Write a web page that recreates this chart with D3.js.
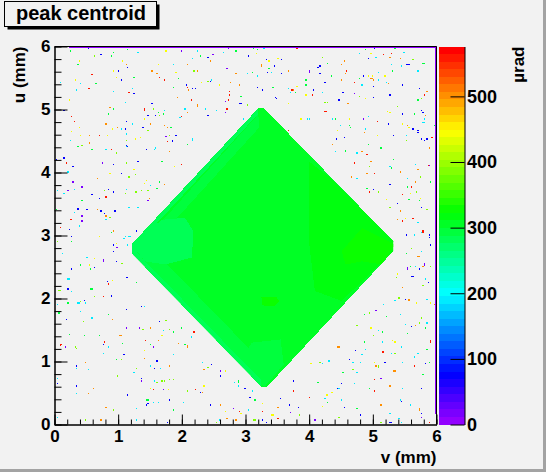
<!DOCTYPE html>
<html lang="en">
<head>
<meta charset="utf-8">
<title>peak centroid</title>
<script src="https://cdnjs.cloudflare.com/ajax/libs/d3/7.8.5/d3.min.js"></script>
<style>
  body { margin: 0; background: #f2f2f2; }
  svg { display: block; }
  text { font-family: "Liberation Sans", Arial, Helvetica, sans-serif; font-weight: bold; }
</style>
</head>
<body>
<script>

//Axis ranges, bins and ticks
var vDomain = [0, 6];
var uDomain = [0, 6];
var zMax = 576;
var nColors = 50;
var binSize = 0.02;
var vTicks = [0, 1, 2, 3, 4, 5, 6];
var uTicks = [0, 1, 2, 3, 4, 5, 6];
var zTicks = [0, 100, 200, 300, 400, 500];

//Diamond outline [v, u] and its base value
var diamondOutline = [[3.20,5.02],[3.29,5.02],[5.32,2.91],[5.32,2.75],[3.34,0.60],[3.25,0.60],[1.21,2.72],[1.21,2.86]];
var diamondValue = 305;

//Sub-regions inside the diamond with their own value
var bandInner = [[3.20,4.92],[1.36,2.86],[1.21,2.66],[3.25,0.60],[3.35,0.90],[1.60,2.72],[1.55,2.86],[3.22,4.72]];
var bandEdge = [[3.20,5.02],[1.21,2.86],[1.21,2.72],[3.25,0.60],[3.25,0.70],[1.30,2.72],[1.30,2.86],[3.20,4.93]];
var leftPatch = [[1.21,2.86],[1.69,3.25],[2.05,3.28],[2.18,3.07],[2.16,2.65],[1.74,2.54],[1.42,2.59]];
var bottomPatch = [[2.90,1.00],[3.30,0.60],[3.60,0.95],[3.55,1.35],[3.10,1.30]];
var rightPatch = [[3.99,4.18],[4.30,3.94],[5.40,2.83],[4.51,1.96],[4.09,2.12],[3.99,2.96]];
var rightCorner = [[4.83,3.12],[5.35,2.86],[5.14,2.54],[4.83,2.59],[4.57,2.54],[4.51,2.75]];
var centreSpot = [[3.25,2.02],[3.48,2.03],[3.53,1.95],[3.45,1.88],[3.26,1.89]];
var patches = [
  {shape: bandInner, z: 294},
  {shape: leftPatch, z: 280},
  {shape: bottomPatch, z: 294},
  {shape: bandEdge, z: 283},
  {shape: rightPatch, z: 317},
  {shape: rightCorner, z: 330},
  {shape: centreSpot, z: 330}
];

//Low-valued bins along the top row and the right column
var edgeRows = [
  {side: "top", from: 0.22, to: 6, z: 10},
  {side: "right", from: 0.17, to: 6, z: 10}
];

//Isolated noisy bins [v, u, value]
var noiseTopLeft = [
[0.24,5.92,290],[0.52,5.96,80],[0.72,5.86,80],[0.73,5.86,80],[0.92,5.90,290],[1.15,5.94,290],[1.30,5.90,185],[1.75,5.92,445],[1.99,5.92,20],[2.26,5.92,185],[2.41,5.83,80],[2.49,5.87,20],[2.64,5.90,185],[2.73,5.96,20],[2.85,5.93,290],
[0.62,5.84,385],[0.88,5.84,290],[1.07,5.77,445],[1.14,5.71,505],[0.36,5.71,290],[0.38,5.77,445],[1.62,5.71,445],[1.86,5.71,185],[2.08,5.70,505],[2.16,5.81,185],[2.30,5.85,290],[2.45,5.76,505],[2.70,5.65,20],[2.71,5.65,20],[2.85,5.57,505],
[0.94,5.61,445],[1.01,5.61,80],[1.16,5.66,80],[1.52,5.60,505],[1.60,5.57,505],[1.90,5.59,445],[2.19,5.60,385],[2.25,5.61,505],[0.59,5.55,560],[0.97,5.50,445],[1.05,5.46,80],[1.24,5.51,290],[1.65,5.50,560],[1.72,5.46,560],[1.94,5.49,290],
[0.08,5.42,185],[0.32,5.47,445],[0.40,5.41,185],[0.65,5.41,290],[0.53,5.33,560],[0.54,5.33,560],[1.23,5.33,185],[1.17,5.26,560],[1.25,5.25,80],[1.87,5.34,290],[2.06,5.38,80],[2.08,5.35,560],[2.16,5.33,80],[2.20,5.33,80],[2.11,5.30,505],
[2.31,5.42,445],[2.40,5.44,385],[2.44,5.44,80],[2.46,5.46,185],[2.58,5.38,445],[2.77,5.42,505],[2.90,5.38,505],[2.75,5.29,560],[2.75,5.22,560],[2.93,5.20,290],[0.34,5.31,185],[0.92,5.29,185],[0.23,5.15,445],[1.10,5.11,185],[1.52,5.09,80],
[1.92,5.18,505],[2.14,5.14,560],[2.69,5.12,20],[2.73,5.15,560],[2.90,5.10,80],[2.92,5.10,80],[0.87,5.03,505],[0.93,5.01,290],[1.40,5.01,560],[1.40,4.98,560],[1.55,5.01,385],[1.73,4.99,185],[2.04,5.01,185],[2.25,5.07,505],[2.25,5.04,505],
[2.37,5.01,185],[2.55,4.98,185],[2.70,5.02,560],[2.69,4.95,20],[0.15,4.99,80],[0.84,4.93,290],[2.08,4.94,505],[1.62,4.94,290],[1.58,4.90,80],[1.47,4.90,80],[1.65,4.90,385],[1.71,4.93,290],[1.97,4.87,185],[1.99,4.88,560],[2.40,4.90,80],
[2.97,4.84,185],[0.27,4.88,560],[0.30,4.80,560],[1.12,4.80,80],[1.23,4.77,185],[1.41,4.85,445],[1.50,4.77,505],[0.80,4.77,505],[0.38,4.72,445],[0.91,4.69,445],[0.98,4.71,505],[1.04,4.69,185],[1.11,4.69,80],[1.38,4.71,80],[1.47,4.68,385],
[1.72,4.74,505],[1.76,4.71,505],[1.82,4.72,290],[0.27,4.65,445],[0.41,4.59,445],[0.54,4.58,505],[0.71,4.60,560],[0.82,4.60,445],[1.13,4.61,185],[1.34,4.56,445],[1.74,4.57,20],[1.81,4.58,385],[1.90,4.60,80],[2.16,4.53,185],[2.16,4.51,185],
[0.24,4.52,185],[1.14,4.52,385],[1.26,4.53,445],[1.77,4.49,560],[1.84,4.51,80],[1.84,4.49,80],[0.54,4.46,505],[0.43,4.43,385],[0.36,4.41,290],[1.12,4.42,80],[1.15,4.40,80],[1.13,4.41,185],[0.59,4.37,290],[0.80,4.37,185],[0.81,4.37,185],
[0.89,4.36,560],[1.45,4.37,80],[1.59,4.39,185],[1.56,4.36,185],[2.08,4.44,290],[0.96,4.30,385],[1.81,4.32,505],[0.15,4.23,80],[0.02,4.21,80],[0.19,4.15,560],[0.28,4.09,80],[0.74,4.15,20],[0.92,4.14,80],[1.12,4.15,385],[1.30,4.18,80],
[1.69,4.18,290],[1.98,4.14,560],[1.89,4.08,445],[0.21,4.02,185],[0.87,3.99,445],[1.04,3.98,80],[1.25,4.04,445],[1.26,3.96,385],[1.17,3.92,385],[0.67,3.90,505],[0.29,3.85,20],[1.41,3.83,445],[1.45,3.87,445],[1.64,3.84,290],[1.51,3.78,185],
[1.72,3.80,505],[0.04,3.71,185],[0.14,3.67,185],[0.15,3.67,185],[0.30,3.72,185],[0.21,3.71,20],[0.43,3.77,20],[0.79,3.71,385],[0.84,3.72,80],[0.93,3.68,80],[1.12,3.73,185],[1.27,3.69,385],[1.28,3.69,385],[1.36,3.71,385],[1.47,3.71,385],
[1.61,3.74,290],[0.59,3.65,80],[0.81,3.61,560],[0.71,3.58,80],[1.11,3.66,385],[0.43,3.55,290],[1.48,3.59,505],[1.47,3.55,20],[0.02,3.41,290],[0.37,3.42,80],[0.37,3.40,80],[0.30,3.37,185],[0.51,3.41,80],[0.66,3.41,505],[0.72,3.38,80],
[0.78,3.34,80],[0.80,3.31,505],[0.95,3.38,80],[1.18,3.44,185],[1.30,3.44,185],[0.43,3.31,20],[0.25,3.25,560],[0.26,3.25,560],[0.43,3.22,20],[0.38,3.15,185],[0.87,3.29,385],[0.81,3.24,185],[0.08,3.12,560],[0.09,3.12,560],[0.23,3.08,80],
[0.89,3.04,290],[0.93,3.06,505],[1.28,3.06,80]
];

var noiseTopRight = [
[3.04,5.84,80],[3.12,5.96,290],[3.18,5.94,290],[3.17,5.88,445],[3.29,5.96,185],[3.80,5.96,560],[4.88,5.94,290],[4.96,5.89,445],[5.03,5.96,80],[5.29,5.89,560],[5.29,5.88,560],[5.27,5.83,505],[5.34,5.96,290],[5.49,5.90,185],[5.17,5.86,560],
[4.79,5.88,185],[4.92,5.81,80],[5.04,5.83,185],[3.32,5.78,80],[3.37,5.77,445],[3.51,5.81,445],[3.57,5.78,80],[4.20,5.83,385],[4.21,5.83,385],[4.54,5.77,505],[4.29,5.72,290],[5.42,5.80,505],[5.53,5.70,80],[5.55,5.71,80],[5.56,5.70,80],
[5.63,5.78,385],[5.44,5.68,185],[3.25,5.70,505],[3.25,5.68,505],[3.44,5.68,80],[3.37,5.65,290],[3.02,5.57,185],[3.10,5.58,290],[3.18,5.52,185],[3.34,5.59,80],[3.40,5.58,185],[3.57,5.57,80],[3.66,5.60,505],[4.00,5.61,20],[4.00,5.59,20],
[4.13,5.66,80],[4.15,5.66,80],[4.17,5.68,80],[4.17,5.57,80],[4.35,5.52,290],[4.58,5.61,560],[4.57,5.57,505],[4.52,5.70,505],[4.84,5.53,80],[4.92,5.53,445],[4.97,5.49,505],[4.98,5.49,505],[4.97,5.48,505],[5.02,5.46,505],[4.98,5.52,445],
[5.10,5.58,185],[5.31,5.60,290],[5.18,5.53,445],[5.24,5.40,505],[5.25,5.40,505],[4.79,5.49,290],[4.82,5.39,185],[4.83,5.39,185],[4.70,5.42,560],[3.95,5.46,290],[3.95,5.38,290],[4.25,5.42,80],[4.51,5.46,505],[5.10,5.46,185],[5.20,5.42,185],
[5.00,5.36,80],[5.70,5.61,185],[5.29,5.70,185],[5.79,5.72,290],[5.80,5.72,290],[3.19,5.34,80],[3.26,5.30,80],[3.43,5.34,290],[3.66,5.33,185],[3.73,5.30,560],[3.76,5.30,505],[3.70,5.26,185],[3.79,5.26,290],[3.81,5.36,445],[4.07,5.30,80],
[4.22,5.26,185],[4.06,5.23,560],[3.94,5.22,445],[4.53,5.26,80],[4.72,5.25,20],[4.79,5.20,385],[4.89,5.17,445],[5.00,5.19,80],[5.27,5.22,80],[5.47,5.38,80],[5.73,5.33,80],[5.85,5.28,505],[5.81,5.22,560],[5.76,5.17,385],[5.71,5.14,290],
[3.47,5.18,80],[3.48,5.17,80],[3.02,5.07,385],[3.66,5.10,445],[4.29,5.11,385],[4.26,5.11,385],[4.47,5.14,80],[4.61,5.09,505],[5.38,5.06,385],[5.22,4.96,445],[5.26,4.95,445],[4.26,4.96,560],[4.27,4.96,560],[5.47,4.92,80],[5.64,4.93,290],
[5.77,4.99,80],[5.79,4.95,80],[5.82,4.90,505],[5.83,4.90,505],[5.80,4.85,185],[3.87,4.84,445],[3.97,4.84,185],[4.00,4.85,185],[4.36,4.85,185],[4.40,4.85,290],[4.62,4.85,445],[4.63,4.85,445],[4.84,4.85,20],[4.93,4.88,185],[5.07,4.80,560],
[5.25,4.77,80],[5.46,4.77,445],[5.54,4.74,505],[5.57,4.72,445],[5.63,4.69,80],[5.70,4.67,80],[5.79,4.79,185],[5.80,4.79,185],[5.79,4.78,185],[5.97,4.74,290],[3.66,4.66,560],[4.49,4.76,185],[4.62,4.74,290],[4.65,4.72,290],[4.45,4.68,445],
[4.88,4.69,185],[4.87,4.63,505],[5.07,4.60,445],[5.33,4.60,80],[5.33,4.58,80],[5.53,4.58,185],[5.71,4.62,80],[5.77,4.53,80],[5.81,4.52,80],[5.85,4.53,80],[5.92,4.56,560],[4.42,4.53,80],[4.54,4.55,80],[5.53,4.52,385],[4.37,4.44,505],
[4.92,4.44,290],[4.57,4.34,290],[4.57,4.33,290],[4.40,4.33,185],[4.75,4.31,185],[4.83,4.33,505],[4.91,4.29,560],[4.91,4.28,560],[5.13,4.38,290],[5.32,4.22,290],[5.88,4.39,505],[4.96,4.17,505],[4.70,4.15,560],[4.94,4.09,385],[5.27,4.09,185],
[5.29,4.07,290],[5.66,4.12,185],[5.86,4.11,560],[5.89,4.11,20],[5.98,4.25,385],[4.66,3.92,505],[4.76,3.90,185],[4.90,3.99,505],[5.03,3.98,560],[5.42,4.01,505],[5.71,4.04,505],[5.75,3.93,385],[5.27,3.80,80],[5.55,3.90,185],[5.66,3.85,505],
[5.67,3.85,505],[5.91,3.85,290],[5.54,3.77,290],[5.60,3.77,560],[4.90,3.74,290],[5.00,3.72,80],[4.94,3.68,560],[5.10,3.68,385],[5.47,3.65,560],[5.59,3.66,445],[5.68,3.69,385],[5.75,3.58,445],[5.57,3.57,290],[5.72,3.55,290],[5.21,3.57,445],
[5.39,3.50,80],[5.27,3.45,385],[5.76,3.45,80],[5.77,3.45,80],[5.84,3.40,385],[5.43,3.38,505],[5.98,3.30,385],[5.38,3.25,505],[5.50,3.26,445],[5.51,3.26,445],[5.63,3.26,560],[5.47,3.23,560],[5.71,3.20,185],[5.79,3.06,560],[5.79,3.05,560],
[5.76,3.04,185],[5.52,3.01,80],[5.65,3.01,185],[5.88,3.01,80]
];

var noiseBottomLeft = [
[0.27,2.98,80],[0.71,2.98,445],[1.10,2.98,185],[1.18,2.98,185],[1.19,2.98,185],[1.08,2.95,185],[0.04,2.90,385],[0.26,2.90,290],[0.92,2.85,80],[0.97,2.87,445],[1.15,2.85,185],[0.97,2.80,20],[0.98,2.80,20],[0.92,2.74,80],[0.93,2.74,80],
[0.13,2.71,185],[0.50,2.65,185],[0.51,2.65,185],[0.62,2.63,445],[0.76,2.61,20],[0.76,2.59,20],[0.97,2.58,80],[1.05,2.55,385],[1.06,2.55,385],[0.41,2.52,290],[0.54,2.53,445],[0.62,2.49,80],[0.27,2.46,80],[0.58,2.46,290],[1.14,2.34,80],
[1.15,2.34,80],[0.21,2.31,185],[0.22,2.31,185],[0.82,2.28,80],[0.90,2.30,445],[0.85,2.22,560],[1.29,2.25,290],[0.21,2.15,80],[0.58,2.15,290],[0.59,2.15,290],[0.27,2.11,185],[0.07,2.12,385],[0.08,2.12,385],[0.63,2.03,385],[0.76,2.03,560],
[0.88,2.04,80],[0.88,2.02,80],[0.46,1.96,80],[0.40,1.94,385],[0.48,1.92,185],[0.37,1.92,185],[0.38,1.92,185],[0.20,1.93,290],[0.21,1.93,290],[0.04,1.90,185],[1.36,1.88,80],[1.37,1.88,80],[1.40,1.87,185],[1.14,1.82,80],[0.40,1.79,185],
[0.07,1.77,290],[0.84,1.74,290],[0.59,1.68,185],[0.90,1.66,505],[0.18,1.66,80],[0.45,1.62,385],[1.75,1.65,385],[1.64,1.63,80],[1.12,1.52,20],[1.32,1.52,20],[1.39,1.50,385],[1.50,1.52,505],[1.70,1.49,185],[1.81,1.50,385],[1.86,1.46,290],
[1.98,1.52,290],[2.19,1.46,560],[0.23,1.42,290],[0.46,1.41,290],[0.71,1.41,290],[1.03,1.40,505],[1.04,1.40,505],[1.69,1.41,445],[2.14,1.38,185],[0.79,1.31,560],[1.43,1.33,560],[1.62,1.33,505],[1.07,1.28,290],[0.76,1.27,80],[0.84,1.23,185],
[0.09,1.27,560],[0.10,1.27,560],[0.09,1.25,560],[0.16,1.23,20],[0.32,1.23,385],[0.34,1.20,385],[1.54,1.23,20],[1.50,1.27,290],[1.94,1.28,505],[2.05,1.27,290],[2.09,1.25,505],[2.09,1.23,505],[1.40,1.17,445],[0.76,1.13,185],[0.77,1.13,185],
[1.09,1.11,80],[1.86,1.11,185],[1.40,1.04,505],[0.96,1.03,290],[1.04,1.03,385],[1.61,1.01,80],[2.33,0.99,185],[2.47,0.95,80],[0.48,0.98,505],[0.35,0.92,80],[0.35,0.88,185],[0.52,0.87,185],[1.28,0.88,385],[1.25,0.83,185],[1.50,0.92,185],
[1.56,0.89,80],[1.67,0.88,185],[1.81,0.93,505],[2.40,0.90,385],[2.35,0.87,505],[2.60,0.84,20],[2.68,0.85,445],[2.61,0.76,80],[0.98,0.76,385],[0.05,0.73,185],[0.04,0.65,80],[1.37,0.72,80],[1.37,0.68,20],[1.56,0.69,185],[1.60,0.66,385],
[1.68,0.68,385],[1.73,0.69,385],[1.81,0.71,385],[1.86,0.71,385],[2.35,0.61,445],[2.83,0.66,185],[2.88,0.69,290],[2.88,0.67,290],[0.34,0.60,80],[0.60,0.57,505],[1.51,0.57,445],[1.54,0.55,560],[1.70,0.54,20],[1.78,0.55,445],[2.09,0.52,385],
[2.20,0.54,560],[2.30,0.50,80],[2.33,0.50,505],[2.88,0.60,185],[0.35,0.49,185],[0.52,0.49,505],[1.15,0.47,80],[1.45,0.38,290],[1.46,0.38,290],[1.47,0.33,80],[1.45,0.30,80],[1.54,0.34,185],[1.55,0.34,185],[1.62,0.34,185],[1.63,0.34,185],
[1.80,0.39,80],[2.02,0.34,185],[0.81,0.26,505],[0.92,0.22,385],[1.28,0.25,185],[1.86,0.23,290],[2.44,0.30,80],[2.60,0.31,505],[2.68,0.20,445],[2.69,0.20,445],[2.81,0.25,20],[2.90,0.20,560],[2.92,0.17,445],[0.04,0.11,185],[0.05,0.11,185],
[0.49,0.07,385],[0.73,0.07,505],[1.29,0.06,185],[1.76,0.03,80],[2.54,0.03,385],[2.55,0.03,385],[2.58,0.06,185],[2.71,0.09,505],[2.85,0.07,505]
];

var noiseBottomRight = [
[5.88,2.96,80],[5.90,2.84,80],[5.61,2.79,385],[5.77,2.74,185],[5.52,2.71,290],[5.71,2.66,505],[5.72,2.66,505],[5.80,2.54,20],[5.80,2.52,20],[5.79,2.50,505],[5.91,2.50,385],[5.54,2.48,20],[5.54,2.46,20],[5.59,2.51,290],[5.66,2.51,185],
[5.73,2.46,80],[5.60,2.36,80],[5.63,2.36,80],[5.38,2.39,445],[5.37,2.34,385],[5.83,2.32,185],[5.86,2.24,80],[5.78,2.20,385],[5.79,2.20,385],[5.47,2.17,505],[5.41,2.01,385],[5.50,1.98,80],[5.57,1.98,505],[5.57,1.96,505],[5.35,1.96,185],
[5.68,1.92,445],[5.85,1.98,185],[5.90,1.93,445],[5.91,1.93,445],[5.96,1.90,505],[5.17,1.90,185],[5.04,1.80,20],[5.06,1.80,20],[4.87,1.74,290],[4.94,1.76,385],[5.20,1.71,290],[5.43,1.74,185],[5.77,1.68,385],[5.73,1.61,385],[5.66,1.57,505],
[5.60,1.55,80],[5.51,1.58,185],[5.84,1.61,185],[4.75,1.57,385],[4.96,1.53,445],[4.97,1.53,445],[5.83,1.52,290],[5.09,1.49,185],[5.14,1.46,290],[5.02,1.41,385],[5.55,1.44,290],[5.90,1.32,560],[5.90,1.30,560],[4.86,1.31,290],[4.87,1.31,290],
[5.14,1.31,185],[5.31,1.33,445],[5.34,1.30,445],[4.45,1.23,505],[4.46,1.23,505],[4.73,1.17,80],[4.89,1.19,185],[5.15,1.15,560],[5.16,1.15,560],[5.28,1.14,185],[5.35,1.14,385],[5.45,1.22,185],[5.85,1.19,290],[5.71,1.14,185],[4.82,1.11,185],
[5.64,1.07,185],[4.63,1.03,80],[4.69,0.99,185],[4.81,0.98,185],[5.03,0.98,445],[5.18,0.99,80],[5.46,0.98,80],[5.46,0.99,185],[5.88,0.99,290],[5.82,0.97,80],[5.65,0.94,560],[5.06,0.93,505],[5.09,0.92,385],[5.09,0.90,385],[4.17,0.98,385],
[4.22,0.96,185],[4.31,1.01,185],[4.03,0.96,445],[4.69,0.87,385],[4.53,0.82,290],[4.76,0.82,185],[5.33,0.84,505],[5.34,0.84,505],[5.79,0.79,290],[5.03,0.71,560],[5.13,0.73,20],[3.74,0.69,80],[4.14,0.66,290],[4.15,0.66,290],[4.50,0.65,80],
[4.70,0.65,185],[2.99,0.58,80],[3.11,0.53,185],[3.76,0.53,560],[4.47,0.57,185],[4.44,0.57,80],[4.94,0.58,290],[5.03,0.53,560],[5.27,0.60,505],[5.47,0.57,185],[5.77,0.58,80],[4.35,0.50,445],[4.36,0.50,445],[4.27,0.47,445],[4.28,0.47,445],
[3.06,0.42,80],[3.15,0.38,290],[3.55,0.41,80],[4.01,0.42,560],[4.25,0.41,185],[4.51,0.39,185],[5.42,0.39,185],[5.44,0.36,80],[3.27,0.33,445],[4.29,0.34,290],[3.51,0.27,505],[3.68,0.30,80],[3.83,0.27,80],[4.20,0.28,445],[4.56,0.27,80],
[4.75,0.25,290],[5.13,0.30,505],[5.58,0.31,185],[5.72,0.25,505],[5.72,0.23,505],[5.77,0.17,80],[3.04,0.22,185],[3.26,0.20,560],[3.71,0.19,20],[3.41,0.15,445],[3.42,0.15,445],[3.84,0.14,385],[3.13,0.07,385],[3.14,0.07,385],[3.27,0.06,80],
[3.32,0.03,80],[3.33,0.03,80],[3.51,0.09,560],[4.10,0.06,20],[4.47,0.11,385],[4.80,0.14,80],[5.27,0.17,185],[5.41,0.09,185],[5.27,0.03,80],[5.28,0.03,80],[5.13,0.03,385],[5.44,0.03,185],[5.45,0.03,185],[5.77,0.11,20],[5.88,0.02,560]
];

//Canvas and frame geometry
var w = 546;
var h = 472;
var frame = {left: 54.5, right: 436.5, top: 46.5, bottom: 424.5};
var bar = {left: 439, right: 464.5};

var svg = d3.select("body").append("svg")
  .attr("width", w)
  .attr("height", h);

svg.append("rect")
  .attr("width", w)
  .attr("height", h)
  .attr("fill", "#f2f2f2");

//Canvas border (dark bottom/right edge)
svg.append("rect").attr("x", w - 3).attr("y", 0).attr("width", 3).attr("height", h).attr("fill", "#a3a3a3");
svg.append("rect").attr("x", 0).attr("y", h - 3).attr("width", w).attr("height", 3).attr("fill", "#a3a3a3");

//Scales
var xScale = d3.scaleLinear().domain(vDomain).range([frame.left, frame.right]);
var yScale = d3.scaleLinear().domain(uDomain).range([frame.bottom, frame.top]);
var zScale = d3.scaleLinear().domain([0, zMax]).range([frame.bottom, frame.top]);

//ROOT "pretty" palette: 50 HLS hues from violet to red
var palette = d3.range(nColors).map(function(i) {
  return d3.hsl(280 - (i + 1) * (280 / nColors), 1, 0.5).formatHex();
});
function colorOf(z) {
  var i = Math.floor(z / zMax * nColors);
  return palette[Math.max(0, Math.min(nColors - 1, i))];
}

var plot = svg.append("g").attr("shape-rendering", "crispEdges");

//Noisy single bins
var noise = noiseTopLeft.concat(noiseTopRight, noiseBottomLeft, noiseBottomRight);
plot.selectAll("rect.noise")
  .data(noise)
  .enter()
  .append("rect")
  .attr("class", "noise")
  .attr("x", d => xScale(Math.floor(d[0] / binSize) * binSize))
  .attr("y", d => yScale(Math.floor(d[1] / binSize) * binSize + binSize))
  .attr("width", xScale(binSize) - xScale(0))
  .attr("height", yScale(0) - yScale(binSize))
  .attr("fill", d => colorOf(d[2]));

//Diamond-shaped response region
var toPath = d3.line().x(d => xScale(d[0])).y(d => yScale(d[1])).curve(d3.curveLinearClosed);

svg.append("clipPath")
  .attr("id", "diamondClip")
  .append("path")
  .attr("d", toPath(diamondOutline));

plot.append("path")
  .attr("d", toPath(diamondOutline))
  .attr("fill", colorOf(diamondValue));

plot.append("g")
  .attr("clip-path", "url(#diamondClip)")
  .selectAll("path")
  .data(patches)
  .enter()
  .append("path")
  .attr("d", d => toPath(d.shape))
  .attr("fill", d => colorOf(d.z));

//Frame top and right lines
svg.append("path")
  .attr("d", "M" + frame.left + "," + frame.top + "H" + frame.right + "V" + frame.bottom)
  .attr("fill", "none")
  .attr("stroke", "#000");

//Low-valued bins on the top row / right column
plot.selectAll("rect.edge")
  .data(edgeRows)
  .enter()
  .append("rect")
  .attr("class", "edge")
  .attr("x", d => d.side === "top" ? xScale(d.from) : xScale(vDomain[1] - binSize))
  .attr("y", d => d.side === "top" ? yScale(uDomain[1]) - 0.5 : yScale(d.to))
  .attr("width", d => d.side === "top" ? xScale(d.to) - xScale(d.from) : xScale(vDomain[1]) - xScale(vDomain[1] - binSize) + 0.5)
  .attr("height", d => d.side === "top" ? yScale(uDomain[1] - binSize) - yScale(uDomain[1]) + 0.5 : yScale(d.from) - yScale(d.to))
  .attr("fill", d => colorOf(d.z));

//Axes
function styleAxis(g, size) {
  g.selectAll(".domain").attr("stroke", "#000");
  g.selectAll(".tick line").attr("stroke", "#000");
  g.selectAll("text")
    .attr("fill", "#000")
    .attr("font-size", size)
    .attr("font-weight", "bold")
    .attr("font-family", "'Liberation Sans', Arial, Helvetica, sans-serif");
}

var minorV = d3.range(0, 6.0001, 0.2);
var minorU = d3.range(0, 6.0001, 0.2);

svg.append("g")
  .attr("transform", `translate(0,${frame.bottom})`)
  .call(d3.axisBottom(xScale).tickValues(minorV).tickSize(-5).tickSizeOuter(0).tickFormat(""))
  .call(g => styleAxis(g, 17));

svg.append("g")
  .attr("transform", `translate(0,${frame.bottom})`)
  .call(d3.axisBottom(xScale).tickValues(vTicks).tickSize(-10).tickSizeOuter(0).tickPadding(5).tickFormat(d3.format("d")))
  .call(g => styleAxis(g, 17));

svg.append("g")
  .attr("transform", `translate(${frame.left},0)`)
  .call(d3.axisLeft(yScale).tickValues(minorU).tickSize(-7).tickSizeOuter(0).tickFormat(""))
  .call(g => styleAxis(g, 17));

svg.append("g")
  .attr("transform", `translate(${frame.left},0)`)
  .call(d3.axisLeft(yScale).tickValues(uTicks).tickSize(-13).tickSizeOuter(0).tickPadding(4).tickFormat(d3.format("d")))
  .call(g => styleAxis(g, 17));

//Colour bar
var barBands = d3.range(nColors);
svg.append("g")
  .attr("shape-rendering", "crispEdges")
  .selectAll("rect")
  .data(barBands)
  .enter()
  .append("rect")
  .attr("x", bar.left)
  .attr("width", bar.right - bar.left)
  .attr("y", i => zScale((i + 1) * zMax / nColors))
  .attr("height", i => zScale(i * zMax / nColors) - zScale((i + 1) * zMax / nColors))
  .attr("fill", i => palette[i]);

svg.append("g")
  .attr("transform", `translate(${bar.right},0)`)
  .call(d3.axisRight(zScale).tickValues(zTicks).tickSize(-14).tickSizeOuter(0).tickPadding(2.5))
  .call(g => styleAxis(g, 18));

//Axis titles
svg.append("text")
  .attr("x", frame.right)
  .attr("y", 462.5)
  .attr("text-anchor", "end")
  .attr("font-size", 17)
  .text("v (mm)");

svg.append("text")
  .attr("transform", `translate(25,${frame.top}) rotate(-90)`)
  .attr("text-anchor", "end")
  .attr("font-size", 17)
  .text("u (mm)");

svg.append("text")
  .attr("transform", `translate(524,${frame.top}) rotate(-90)`)
  .attr("text-anchor", "end")
  .attr("font-size", 17)
  .text("\u00b5rad");

//Title box with shadow
svg.append("rect")
  .attr("x", 7.5).attr("y", 4.5)
  .attr("width", 152).attr("height", 25)
  .attr("fill", "#000");
svg.append("rect")
  .attr("x", 4.5).attr("y", 1.5)
  .attr("width", 152).attr("height", 25)
  .attr("fill", "#f2f2f2")
  .attr("stroke", "#000");
svg.append("text")
  .attr("x", 81)
  .attr("y", 20)
  .attr("text-anchor", "middle")
  .attr("font-size", 20)
  .text("peak centroid");

</script>
</body>
</html>
